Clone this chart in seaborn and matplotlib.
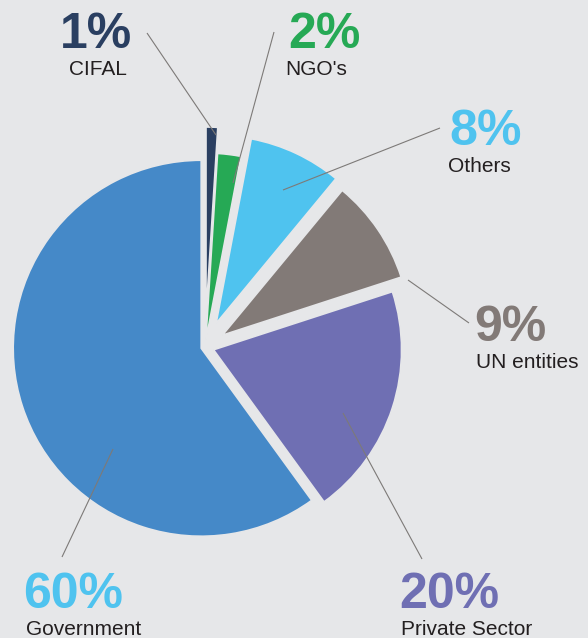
import matplotlib
matplotlib.use("Agg")
import matplotlib.pyplot as plt
import seaborn as sns

# ---- data ----
categories = ["CIFAL", "NGO's", "Others", "UN entities", "Private Sector", "Government"]
shares = [1, 2, 8, 9, 20, 60]
pct_labels = ["1%", "2%", "8%", "9%", "20%", "60%"]

# ---- style ----
slice_colors = ["#2a3f61", "#26a955", "#4fc3ef", "#827a77", "#6f6fb3", "#4589c8"]
pct_colors = ["#2a3f61", "#26a955", "#4fc3ef", "#827a77", "#6f6fb3", "#4fc3ef"]
BG = "#e6e7e9"
W, H = 588, 638
R = 188
CX, CY = 205, 347          # pie centre in pixel coords (y from top)
explode_px = [32, 6, 26, 21, 9, 4]

# label anchor positions (left x, baseline y from top) for percentage / category
pct_pos = [(60, 48), (288, 48), (449, 145), (474, 341), (399, 608), (23, 608)]
cat_pos = [(69, 75), (285, 75), (448, 172), (476, 368), (401, 635), (26, 635)]
# leader lines (pixel coords, y from top)
leaders = [((147, 33), (216, 135)),
           ((274, 32), (233, 183)),
           ((440, 128), (283, 190)),
           ((408, 280), (469, 323)),
           ((343, 413), (422, 559)),
           ((113, 449), (62, 557))]

sns.set_theme(style="white", rc={"figure.facecolor": BG, "axes.facecolor": BG})
plt.rcParams['font.family'] = ['Liberation Sans', 'DejaVu Sans']

fig = plt.figure(figsize=(W / 100, H / 100), dpi=100)
ax = fig.add_axes([0, 0, 1, 1])
ax.set_facecolor(BG)

ax.pie(shares, explode=explode_px, colors=slice_colors, startangle=90,
       counterclock=False, radius=R, center=(CX, H - CY), frame=True,
       wedgeprops=dict(edgecolor=BG, linewidth=1.2))

for (p0, p1) in leaders:
    ax.plot([p0[0], p1[0]], [H - p0[1], H - p1[1]], color="#7d7a78", lw=0.8,
            solid_capstyle="butt", zorder=5)

for lab, cat, pc, pp, cp in zip(pct_labels, categories, pct_colors, pct_pos, cat_pos):
    ax.text(pp[0], H - pp[1], lab, color=pc, fontsize=36, fontweight="bold",
            ha="left", va="baseline")
    ax.text(cp[0], H - cp[1], cat, color="#231f20", fontsize=15,
            ha="left", va="baseline")

ax.set_xlim(0, W)
ax.set_ylim(0, H)
ax.set_aspect("equal")
ax.axis("off")

fig.savefig("out.png", dpi=100, facecolor=BG)
